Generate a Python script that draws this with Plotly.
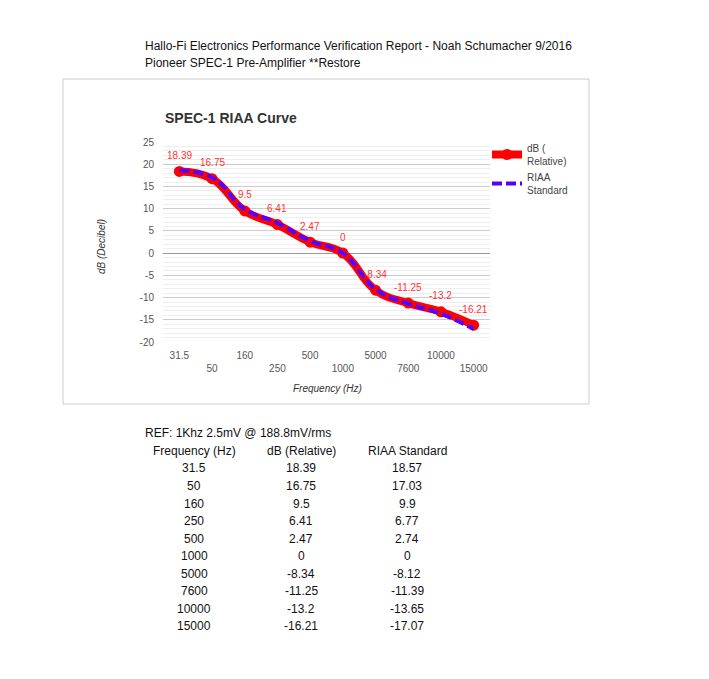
import plotly.graph_objects as go

# Chart data (SPEC-1 RIAA curve)
freqs = ["31.5", "50", "160", "250", "500", "1000", "5000", "7600", "10000", "15000"]
db_relative = [18.39, 16.75, 9.5, 6.41, 2.47, 0, -8.34, -11.25, -13.2, -16.21]
riaa_standard = [18.57, 17.03, 9.9, 6.77, 2.74, 0, -8.12, -11.39, -13.65, -17.07]
y_ticks = [25, 20, 15, 10, 5, 0, -5, -10, -15, -20]

header_lines = [
    "Hallo-Fi Electronics Performance Verification Report - Noah Schumacher 9/2016",
    "Pioneer SPEC-1 Pre-Amplifier **Restore",
]
ref_note = "REF: 1Khz 2.5mV @ 188.8mV/rms"
table_headers = ["Frequency (Hz)", "dB (Relative)", "RIAA Standard"]

# the page body adds an 8px margin, so work in page pixels and shift back
OFF = 8
W, H = 709 - OFF, 679 - OFF
PL, PR, PT, PB = 163, 490, 142, 342  # plot area in page pixels


def px(x):
    return (x - PL) / (PR - PL)


def py(y):
    return (PB - y) / (PB - PT)


FONT = "Arial, Liberation Sans, sans-serif"

fig = go.Figure()
fig.add_trace(go.Scatter(
    x=freqs, y=db_relative, name="dB (<br>Relative)",
    mode="lines+markers", line=dict(color="#ff0000", width=8, shape="spline", smoothing=1.3),
    marker=dict(color="#ff0000", size=11),
))
fig.add_trace(go.Scatter(
    x=freqs, y=riaa_standard, name="RIAA<br>Standard",
    mode="lines", line=dict(color="#5500ff", width=4, shape="spline", smoothing=1.3, dash="10px,4px"),
))

# data labels above the measured points (category index positions)
for i, v in enumerate(db_relative):
    fig.add_annotation(x=i, y=v, text=f"{v:g}", showarrow=False, yshift=16,
                       font=dict(size=10, color="#ff3333", family=FONT))

ticktext = [f if i % 2 == 0 else "<br>" + f for i, f in enumerate(freqs)]

fig.update_layout(
    width=W, height=H,
    margin=dict(l=PL - OFF, r=W - (PR - OFF), t=PT - OFF, b=H - (PB - OFF)),
    paper_bgcolor="white", plot_bgcolor="white",
    font=dict(family=FONT, size=10, color="#444"),
    showlegend=True,
    legend=dict(x=px(487), y=py(135), xanchor="left", yanchor="top",
                font=dict(size=10, color="#444"), itemwidth=30,
                tracegroupgap=4, bgcolor="rgba(0,0,0,0)"),
    xaxis=dict(type="category", tickmode="array", tickvals=freqs, ticktext=ticktext,
               showgrid=False, zeroline=False, showline=False, ticks="",
               ticklabelstandoff=6, tickfont=dict(size=10, color="#555"),
               range=[-0.5, len(freqs) - 0.5]),
    yaxis=dict(range=[-20, 25], tickmode="array", tickvals=y_ticks,
               ticktext=[str(t) for t in y_ticks], showline=False, ticks="",
               gridcolor="#cccccc", gridwidth=1,
               minor=dict(dtick=1, tick0=0, showgrid=True, gridcolor="#eeeeee"),
               zeroline=True, zerolinecolor="#999999", zerolinewidth=1,
               ticklabelstandoff=8, tickfont=dict(size=10, color="#555")),
)

# chart frame
fig.add_shape(type="rect", xref="paper", yref="paper",
              x0=px(63), x1=px(589), y0=py(404), y1=py(79),
              line=dict(color="#cccccc", width=1), layer="below")

# chart title and axis titles
fig.add_annotation(xref="paper", yref="paper", x=px(163), y=py(118), xanchor="left", yanchor="middle",
                   text="<b>SPEC-1 RIAA Curve</b>", showarrow=False,
                   font=dict(size=14, color="#333", family=FONT))
fig.add_annotation(xref="paper", yref="paper", x=px(327), y=py(388), xanchor="center", yanchor="middle",
                   text="<i>Frequency (Hz)</i>", showarrow=False,
                   font=dict(size=10, color="#333", family=FONT))
fig.add_annotation(xref="paper", yref="paper", x=px(101), y=py(247), xanchor="center", yanchor="middle",
                   text="<i>dB (Decibel)</i>", textangle=-90, showarrow=False,
                   font=dict(size=10, color="#333", family=FONT))

# document header
for i, line in enumerate(header_lines):
    fig.add_annotation(xref="paper", yref="paper", x=px(143), y=py(46 + i * 17.5),
                       xanchor="left", yanchor="middle", text=line, showarrow=False,
                       font=dict(size=12, color="#111", family=FONT))

# table below the chart
fig.add_annotation(xref="paper", yref="paper", x=px(143), y=py(433), xanchor="left", yanchor="middle",
                   text=ref_note, showarrow=False, font=dict(size=12, color="#111", family=FONT))
col_x = [194, 301, 407]
for cx, h in zip(col_x, table_headers):
    fig.add_annotation(xref="paper", yref="paper", x=px(cx), y=py(451), xanchor="center", yanchor="middle",
                       text=h, showarrow=False, font=dict(size=12, color="#111", family=FONT))
for r, (f, a, b) in enumerate(zip(freqs, db_relative, riaa_standard)):
    yy = 468.5 + r * 17.5
    for cx, val in zip(col_x, [f, f"{a:g}", f"{b:g}"]):
        fig.add_annotation(xref="paper", yref="paper", x=px(cx), y=py(yy), xanchor="center", yanchor="middle",
                           text=val, showarrow=False, font=dict(size=12, color="#111", family=FONT))

fig.write_html("out.html")
print("out.html created!")
